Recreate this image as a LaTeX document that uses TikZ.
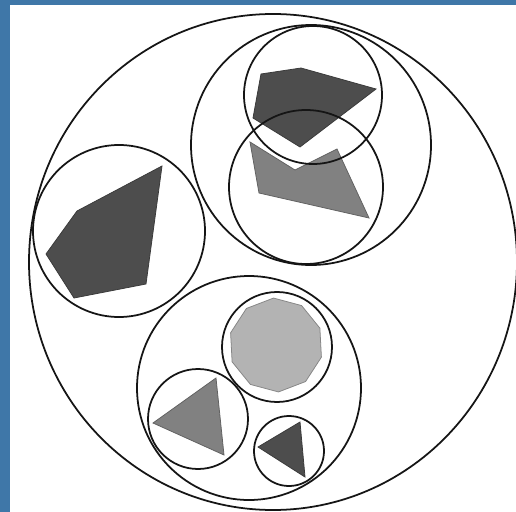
\documentclass[tikz,border=0pt]{standalone}
\usepackage{xcolor}
\usetikzlibrary{calc}
\definecolor{frameBlue}{HTML}{3F77A8}
\definecolor{ink}{HTML}{151515}
\definecolor{polyDark}{HTML}{4D4D4D}
\definecolor{polyMid}{HTML}{818181}
\definecolor{polyLight}{HTML}{B3B3B3}
\tikzset{
  ring/.style={draw=ink, line width=2.5pt},
  shard/.style={fill=#1, draw=#1!75!black, line width=1.1pt, line join=miter},
}

\begin{document}
\begin{tikzpicture}[x=0.5mm,y=0.5mm,yscale=-1]
  \useasboundingbox (0,0) rectangle (516,512);
  \fill[white] (0,0) rectangle (516,512);
  \fill[frameBlue] (0,0) rectangle (10,512);
  \fill[frameBlue] (0,0) rectangle (516,5);

  % upper group
  \fill[shard=polyDark] (261,74) -- (301,68) -- (376,89) -- (300,147) -- (253,118) -- cycle;
  \fill[shard=polyMid] (250,142) -- (295,170) -- (337,149) -- (369,218) -- (259,193) -- cycle;

  % left blob
  \fill[shard=polyDark] (162,166) -- (77,211) -- (46,254) -- (74,298) -- (146,284) -- cycle;

  % lower group
  \def\dx{276}\def\dy{345}
  \fill[shard=polyLight] (\dx,\dy) ++(267:47)
    \foreach \k in {1,...,9} { -- ($(\dx,\dy)+(267+36*\k:47)$) } -- cycle;
  \fill[shard=polyMid] (216,378) -- (153,423) -- (224,455) -- cycle;
  \fill[shard=polyDark] (300,422) -- (258,447) -- (305,477) -- cycle;

  % rings
  \draw[ring] (273,262) ellipse [x radius=244, y radius=248];
  \foreach \cx/\cy/\r in {311/145/120, 313/95/69, 306/187/77, 119/231/86,
                          249/388/112, 277/347/55, 198/419/50, 289/451/35} {
    \draw[ring] (\cx,\cy) circle [radius=\r];
  }
\end{tikzpicture}
\end{document}
